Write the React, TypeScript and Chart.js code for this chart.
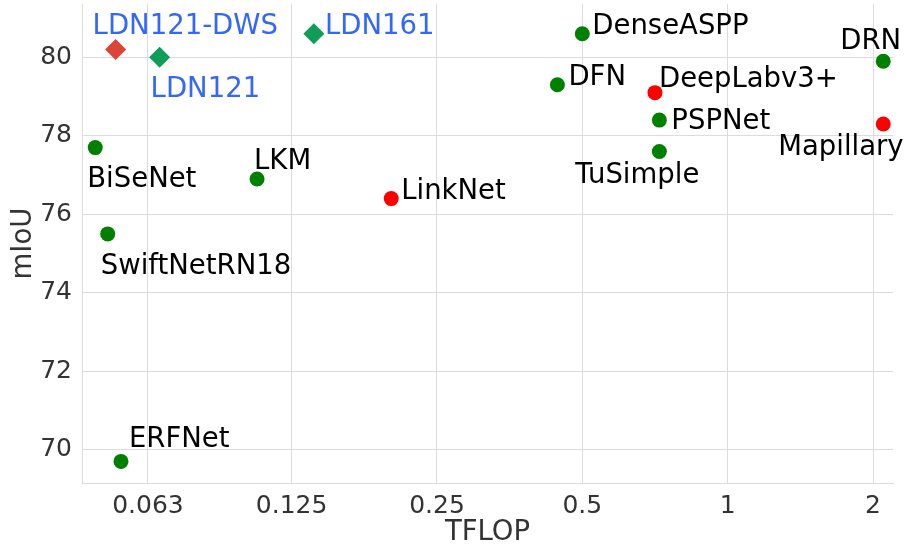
import React, { useEffect, useRef } from "react";
import { Chart, registerables } from "chart.js";

Chart.register(...registerables);

// ---- data ----
const oursNames = ["LDN121-DWS", "LDN121", "LDN161"];
const oursTflop = [0.054, 0.0666, 0.139];
const oursMiou = [80.2, 80.0, 80.6];

const greenNames = ["BiSeNet", "LKM", "SwiftNetRN18", "ERFNet", "DenseASPP", "DFN", "PSPNet", "TuSimple", "DRN"];
const greenTflop = [0.049, 0.106, 0.052, 0.0554, 0.5, 0.444, 0.722, 0.722, 2.1];
const greenMiou = [77.7, 76.9, 75.5, 69.7, 80.6, 79.3, 78.4, 77.6, 79.9];

const redNames = ["LinkNet", "DeepLabv3+", "Mapillary"];
const redTflop = [0.201, 0.707, 2.1];
const redMiou = [76.4, 79.1, 78.3];

const xTickValues = [0.063, 0.125, 0.25, 0.5, 1, 2];
const xTickLabels = ["0.063", "0.125", "0.25", "0.5", "1", "2"];
const yTickValues = [70, 72, 74, 76, 78, 80];

// ---- label placement (pixel offsets of text start / baseline from the marker) ----
const labelOffsets: Record<string, [number, number]> = {
  "LDN121-DWS": [-23, -16],
  LDN121: [-9, 40],
  LDN161: [11, 0],
  BiSeNet: [-8, 39],
  LKM: [-3, -10],
  LinkNet: [10, 0],
  SwiftNetRN18: [-7, 40],
  ERFNet: [8, -14],
  DenseASPP: [10, 0],
  DFN: [11, 0],
  "DeepLabv3+": [4, -6],
  PSPNet: [12, 9],
  TuSimple: [-84, 31],
  DRN: [-43, -12],
  Mapillary: [-105, 31],
};

const FONT = "'DejaVu Sans', sans-serif";

const labelPlugin = {
  id: "pointLabels",
  afterDatasetsDraw(chart: any) {
    const ctx = chart.ctx;
    ctx.save();
    ctx.font = `27.5px ${FONT}`;
    ctx.textAlign = "left";
    ctx.textBaseline = "alphabetic";
    chart.data.datasets.forEach((ds: any, i: number) => {
      const meta = chart.getDatasetMeta(i);
      ctx.fillStyle = ds.labelColor;
      meta.data.forEach((el: any, j: number) => {
        const name = ds.names[j];
        const off = labelOffsets[name] || [8, 0];
        ctx.fillText(name, el.x + off[0], el.y + off[1]);
      });
    });
    ctx.restore();
  },
};

const toPts = (xs: number[], ys: number[]) => xs.map((x, i) => ({ x, y: ys[i] }));

export default function App() {
  const ref = useRef<HTMLCanvasElement | null>(null);

  useEffect(() => {
    if (!ref.current) return;
    const gridColor = "#dcdcdc";
    const tickColor = "#333333";
    const chart = new Chart(ref.current, {
      type: "scatter",
      data: {
        datasets: [
          {
            label: "ours",
            names: oursNames,
            labelColor: "#3366ff",
            data: toPts(oursTflop, oursMiou),
            pointStyle: "rectRot",
            pointRadius: 10.5,
            pointBorderWidth: 0,
            backgroundColor: ["#db4437", "#0f9d58", "#0f9d58"],
            borderColor: ["#db4437", "#0f9d58", "#0f9d58"],
          } as any,
          {
            label: "green",
            names: greenNames,
            labelColor: "#000000",
            data: toPts(greenTflop, greenMiou),
            pointStyle: "circle",
            pointRadius: 7.5,
            pointBorderWidth: 0,
            backgroundColor: "#008000",
            borderColor: "#008000",
          } as any,
          {
            label: "red",
            names: redNames,
            labelColor: "#000000",
            data: toPts(redTflop, redMiou),
            pointStyle: "circle",
            pointRadius: 7.5,
            pointBorderWidth: 0,
            backgroundColor: "#ff0000",
            borderColor: "#ff0000",
          } as any,
        ],
      },
      options: {
        animation: false,
        responsive: false,
        layout: { autoPadding: false, padding: { top: 4, right: 14, left: 0, bottom: 0 } },
        plugins: { legend: { display: false }, tooltip: { enabled: false } },
        scales: {
          x: {
            type: "logarithmic",
            min: 0.046,
            max: 2.2,
            afterBuildTicks: (scale: any) => {
              scale.ticks = xTickValues.map((v) => ({ value: v }));
            },
            afterFit: (scale: any) => {
              scale.height = 61;
              scale.paddingLeft = 0;
              scale.paddingRight = 0;
            },
            ticks: {
              autoSkip: false,
              maxRotation: 0,
              padding: 8,
              color: tickColor,
              font: { family: FONT, size: 25 },
              callback: (_v: any, i: number) => xTickLabels[i],
            },
            grid: { color: gridColor, lineWidth: 1, drawTicks: false },
            border: { display: true, color: gridColor, width: 1 },
            title: {
              display: true,
              text: "TFLOP",
              color: tickColor,
              font: { family: FONT, size: 27.5, lineHeight: 1 },
              padding: { top: 0, bottom: -3 },
            },
          },
          y: {
            type: "linear",
            min: 69.15,
            max: 81.36,
            afterBuildTicks: (scale: any) => {
              scale.ticks = yTickValues.map((v) => ({ value: v }));
            },
            afterFit: (scale: any) => {
              scale.width = 82;
              scale.paddingTop = 0;
              scale.paddingBottom = 0;
            },
            ticks: {
              padding: 10,
              color: tickColor,
              font: { family: FONT, size: 25 },
              callback: (v: any) => String(v),
            },
            grid: { color: gridColor, lineWidth: 1, drawTicks: false },
            border: { display: true, color: gridColor, width: 1 },
            title: {
              display: true,
              text: "mIoU",
              color: tickColor,
              font: { family: FONT, size: 27.5, lineHeight: 1 },
              padding: { top: 10.5, bottom: 0 },
            },
          },
        },
      } as any,
      plugins: [labelPlugin],
    });
    return () => chart.destroy();
  }, []);

  return (
    <div style={{ position: "fixed", left: 0, top: 0, width: 907, height: 544, background: "#ffffff" }}>
      <canvas ref={ref} width={907} height={544} style={{ display: "block" }} />
    </div>
  );
}
